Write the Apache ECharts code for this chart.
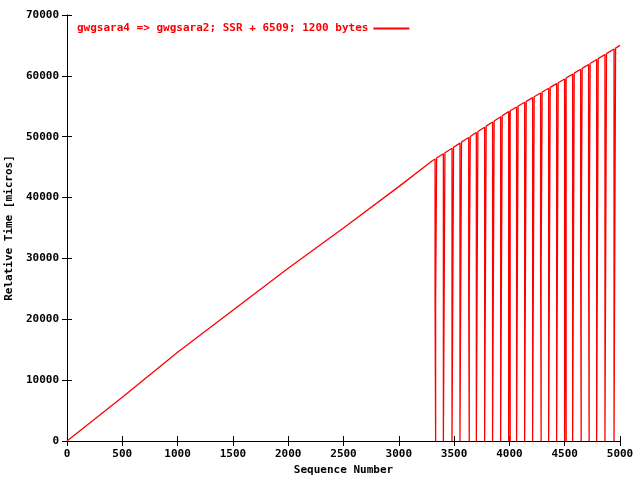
<!DOCTYPE html>
<html>
<head>
<meta charset="UTF-8">
<script src="https://cdn.jsdelivr.net/npm/echarts@6/dist/echarts.min.js"></script>
<style>body{margin:0}#chart{width:640px;height:480px}</style>
</head>
<body>
<div id="chart"></div>
<script>
// main curve: sequence number -> relative time
const seqX = [0, 500, 1000, 1500, 2000, 2500, 3000, 3300, 3600, 4000, 4500, 5000];
const timeY = [0, 7200, 14600, 21500, 28400, 35000, 41800, 46000, 49500, 54200, 59500, 65000];
// drops: sequence numbers and the low value reached
const dropX = [3328, 3403, 3481, 3553, 3632, 3701, 3776, 3848, 3921, 3993, 4065, 4138, 4210, 4282, 4355, 4427, 4499, 4572, 4644, 4716, 4789, 4864, 4946];
const dropY = [23000, 0, 0, 0, 24800, 0, 0, 0, 0, 0, 0, 0, 0, 28600, 0, 0, 0, 0, 30900, 30900, 0, 0, 0];

function topAt(x) {
  for (let i = 1; i < seqX.length; i++) {
    if (x <= seqX[i]) {
      const t = (x - seqX[i - 1]) / (seqX[i] - seqX[i - 1]);
      return timeY[i - 1] + t * (timeY[i] - timeY[i - 1]);
    }
  }
  return timeY[timeY.length - 1];
}

// merge curve and drops into one path
const pts = seqX.map((x, i) => [x, timeY[i]]);
dropX.forEach((x, i) => {
  const w = 14;
  pts.push([x, topAt(x)], [x, dropY[i]], [x + w, dropY[i]], [x + w, topAt(x + w)]);
  if (dropY[i] > 0) pts.push([x + 5, dropY[i]], [x + 5, 0], [x + 5, dropY[i]]);
});
pts.sort((a, b) => a[0] - b[0]);

const font = { fontFamily: 'DejaVu Sans Mono', fontSize: 11, fontWeight: 'bold', color: '#000' };
const plain = v => String(v);
const chart = echarts.init(document.getElementById('chart'));
chart.setOption({
  backgroundColor: '#fff',
  animation: false,
  grid: { left: 67, right: 20, top: 15, bottom: 39, containLabel: false, outerBoundsMode: 'none' },
  legend: {
    left: 72, top: 18, align: 'right', itemWidth: 36, itemHeight: 2,
    textStyle: { color: '#f00', fontFamily: 'DejaVu Sans Mono', fontSize: 11, fontWeight: 'bold' },
    data: [{ name: 'gwgsara4 => gwgsara2; SSR + 6509; 1200 bytes', icon: 'rect' }]
  },
  xAxis: [{
    type: 'value', min: 0, max: 5000, interval: 500,
    name: 'Sequence Number', nameLocation: 'middle', nameGap: 24, nameTextStyle: font,
    axisLine: { lineStyle: { color: '#000' } },
    axisTick: { inside: true, length: 5, lineStyle: { color: '#000' } },
    axisLabel: { ...font, margin: 8, formatter: plain }, splitLine: { show: false }
  }, {
    type: 'value', position: 'top', min: 0, max: 5000, interval: 500,
    axisLine: { show: true, lineStyle: { color: '#000' } },
    axisTick: { inside: true, length: 5, lineStyle: { color: '#000' } },
    axisLabel: { show: false }, splitLine: { show: false }
  }],
  yAxis: [{
    type: 'value', min: 0, max: 70000, interval: 10000,
    name: 'Relative Time [micros]', nameLocation: 'middle', nameGap: 52, nameTextStyle: font,
    axisLine: { show: true, lineStyle: { color: '#000' } },
    axisTick: { show: true, inside: true, length: 5, lineStyle: { color: '#000' } },
    axisLabel: { ...font, margin: 8, formatter: plain }, splitLine: { show: false }
  }, {
    type: 'value', position: 'right', min: 0, max: 70000, interval: 10000,
    axisLine: { show: true, lineStyle: { color: '#000' } },
    axisTick: { show: true, inside: true, length: 5, lineStyle: { color: '#000' } },
    axisLabel: { show: false }, splitLine: { show: false }
  }],
  series: [{
    name: 'gwgsara4 => gwgsara2; SSR + 6509; 1200 bytes',
    type: 'line', data: pts, showSymbol: false,
    lineStyle: { color: '#f00', width: 1.3 }, itemStyle: { color: '#f00' }
  }]
});
</script>
</body>
</html>
